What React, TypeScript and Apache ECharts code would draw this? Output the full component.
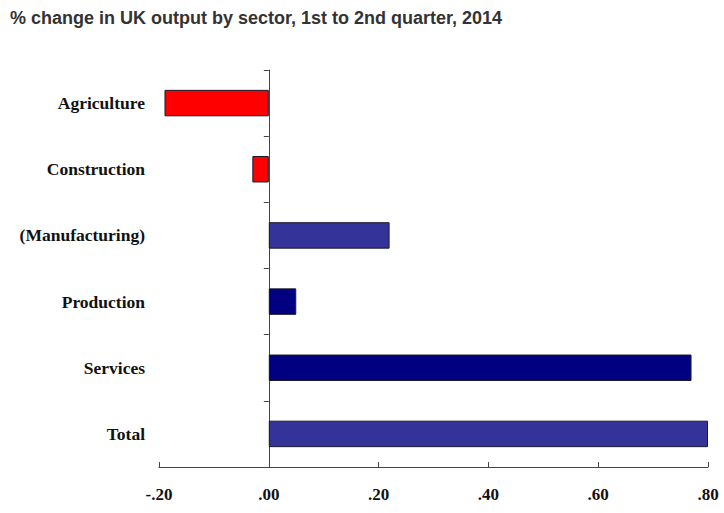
import React, { useEffect, useRef } from "react";
import * as echarts from "echarts";

const categories = ["Agriculture", "Construction", "(Manufacturing)", "Production", "Services", "Total"];
const values = [-0.19, -0.03, 0.22, 0.05, 0.77, 0.8];
const barColors = ["#FF0000", "#FF0000", "#333399", "#000080", "#000080", "#333399"];
const titleText = "% change in UK output by sector, 1st to 2nd quarter, 2014";

export default function App() {
  const ref = useRef<HTMLDivElement>(null);
  useEffect(() => {
    if (!ref.current) return;
    const chart = echarts.init(ref.current, null, { renderer: "svg" });
    chart.setOption({
      animation: false,
      backgroundColor: "#ffffff",
      title: {
        text: titleText,
        left: 5,
        top: 4,
        textStyle: { fontFamily: "Liberation Sans, Arial, sans-serif", fontWeight: "bold", fontSize: 18, color: "#333333" },
      },
      grid: { left: 159, right: 16, top: 70, bottom: 46, containLabel: false, outerBoundsMode: "none" },
      xAxis: {
        type: "value",
        min: -0.2,
        max: 0.8,
        interval: 0.2,
        splitLine: { show: false },
        axisLine: { show: true, lineStyle: { color: "#444444", width: 1 } },
        axisTick: { show: true, inside: true, length: 5, lineStyle: { color: "#444444" } },
        axisLabel: {
          margin: 19,
          fontFamily: "Liberation Serif, Times New Roman, serif",
          fontWeight: "bold",
          fontSize: 17,
          color: "#111111",
          formatter: (v: number) => (v < -1e-9 ? "-" : "") + Math.abs(v).toFixed(2).replace(/^0/, ""),
        },
      },
      yAxis: {
        type: "category",
        data: categories,
        inverse: true,
        axisLine: { show: true, onZero: true, lineStyle: { color: "#444444", width: 1 } },
        axisTick: { show: true, length: 5, lineStyle: { color: "#444444" } },
        axisLabel: {
          margin: 14,
          fontFamily: "Liberation Serif, Times New Roman, serif",
          fontWeight: "bold",
          fontSize: 17.5,
          color: "#111111",
        },
      },
      series: [
        {
          type: "bar",
          barWidth: "40%",
          data: values.map((v, i) => ({
            value: v,
            itemStyle: { color: barColors[i], borderColor: "#1a1a2a", borderWidth: 1 },
          })),
        },
      ],
    });
    return () => chart.dispose();
  }, []);
  return <div ref={ref} style={{ position: "absolute", left: 0, top: 0, width: 724, height: 513 }} />;
}
